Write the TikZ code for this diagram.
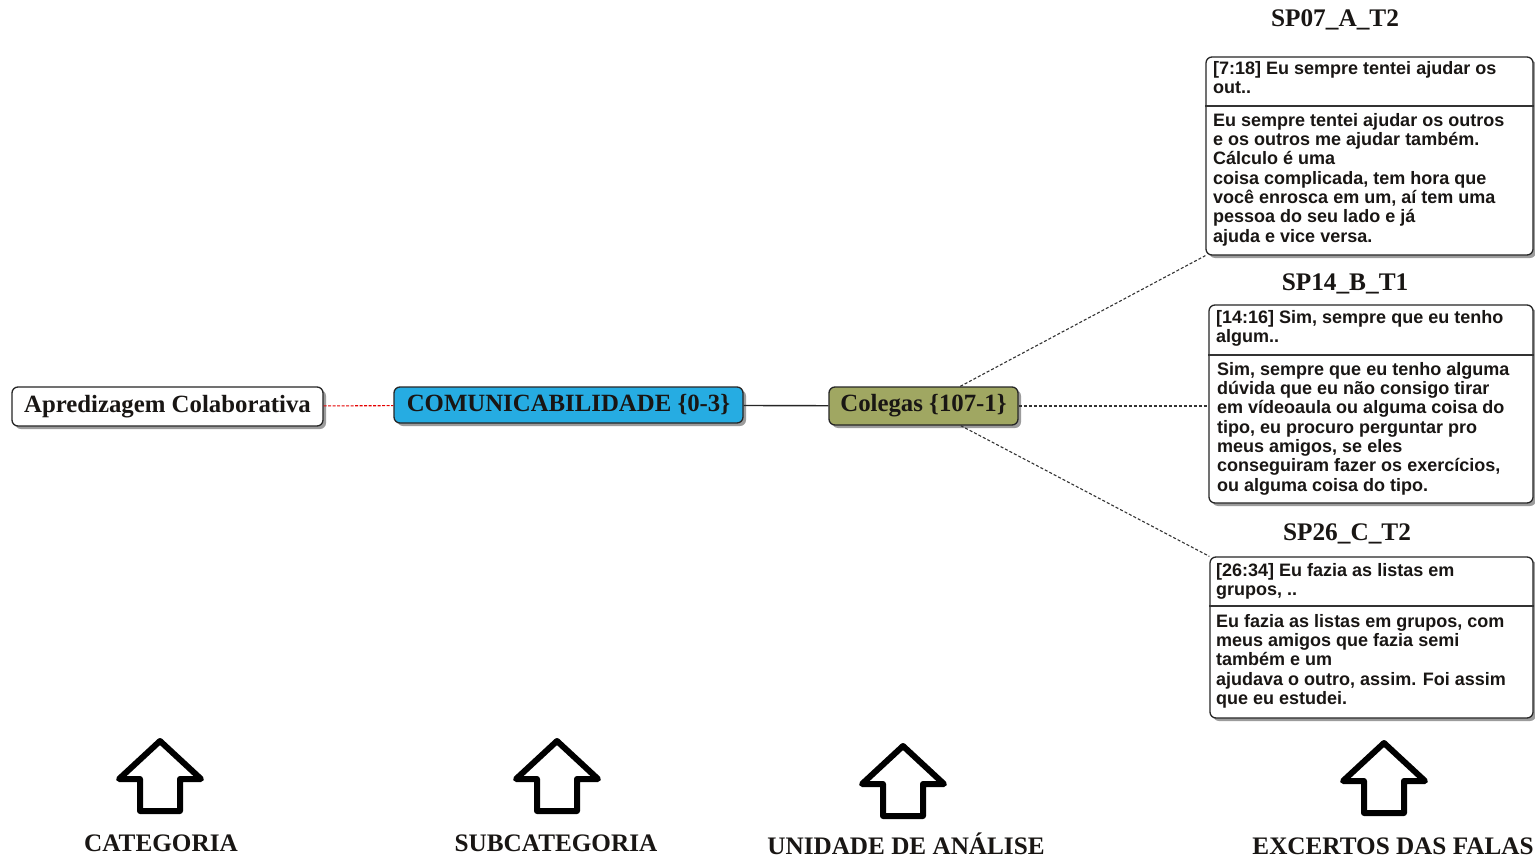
\documentclass[tikz,border=0pt]{standalone}
\usepackage{fontspec}
\setmainfont{Liberation Serif}
\setsansfont{Liberation Sans}
\usetikzlibrary{shadows}
\definecolor{comblue}{RGB}{38,172,226}
\definecolor{coleolive}{RGB}{160,167,98}
\definecolor{inkdark}{RGB}{25,22,20}
\tikzset{
  mapnode/.style={draw=black!85, line width=1.3pt, rounded corners=6pt,
    inner sep=0pt, text=inkdark,
    font=\fontsize{24.8}{28}\selectfont\bfseries\rmfamily,
    drop shadow={shadow xshift=3pt, shadow yshift=-3pt, fill=black!55, opacity=0.7}},
  excbox/.style={draw=black!85, line width=1.3pt, rounded corners=6pt,
    fill=white, inner sep=0pt,
    drop shadow={shadow xshift=3pt, shadow yshift=-3pt, fill=black!55, opacity=0.7}},
  exctext/.style={anchor=north west, align=left, inner sep=0pt, text=inkdark,
    font=\fontsize{18}{19.3}\selectfont\bfseries\sffamily},
  sepline/.style={draw=black!80, line width=1.3pt},
  boxtitle/.style={anchor=base, inner sep=0pt, text=inkdark,
    font=\fontsize{25.3}{28}\selectfont\bfseries\rmfamily},
  levellabel/.style={anchor=base, inner sep=0pt, text=inkdark,
    font=\fontsize{25.2}{28}\selectfont\bfseries\rmfamily},
  linkdash/.style={draw=black!80, line width=1.1pt, dash pattern=on 3pt off 2pt},
  upmark/.pic={\draw[line width=6pt, line join=round]
    (0,0) -- (41,38) -- (20,38) -- (20,70) -- (-20,70) -- (-20,38) -- (-41,38) -- cycle;}
}
\begin{document}
\begin{tikzpicture}[x=1pt, y=-1pt]
\useasboundingbox[fill=white] (0,0) rectangle (1535,859);

% main chain of the map
\node[mapnode, fill=white, minimum width=311pt, minimum height=39pt] (cat) at (167.5,406.5) {Apredizagem Colaborativa};
\node[mapnode, fill=comblue, minimum width=349pt, minimum height=36pt] (sub) at (568.5,405) {COMUNICABILIDADE \{0-3\}};
\node[mapnode, fill=coleolive, minimum width=189pt, minimum height=38pt] (uni) at (923.5,406) {Colegas \{107-1\}};

\draw[red!90!black, line width=1.1pt, dash pattern=on 3pt off 1.5pt] (cat) -- (sub);
\draw[black!85, line width=1.4pt] (sub) -- (uni);

% excerpt boxes
\node[excbox, minimum width=327pt, minimum height=198pt] (e1) at (1369.5,156) {};
\node[excbox, minimum width=324pt, minimum height=198pt] (e2) at (1371,404) {};
\node[excbox, minimum width=323pt, minimum height=161pt] (e3) at (1371.5,637.5) {};

\coordinate (s1) at (0,106);
\coordinate (s2) at (0,355);
\coordinate (s3) at (0,606);
\draw[sepline] (e1.west |- s1) -- (e1.east |- s1);
\draw[sepline] (e2.west |- s2) -- (e2.east |- s2);
\draw[sepline] (e3.west |- s3) -- (e3.east |- s3);

\node[exctext] (e1h) at (1213,61) {[7:18] Eu sempre tentei ajudar os\\out..};
\node[exctext] (e1b) at (1213,113) {Eu sempre tentei ajudar os outros\\e os outros me ajudar também.\\Cálculo é uma\\coisa complicada, tem hora que\\você enrosca em um, aí tem uma\\pessoa do seu lado e já\\ajuda e vice versa.};

\node[exctext] (e2h) at (1216,310) {[14:16] Sim, sempre que eu tenho\\algum..};
\node[exctext] (e2b) at (1217,362) {Sim, sempre que eu tenho alguma\\dúvida que eu não consigo tirar\\em vídeoaula ou alguma coisa do\\tipo, eu procuro perguntar pro\\meus amigos, se eles\\conseguiram fazer os exercícios,\\ou alguma coisa do tipo.};

\node[exctext] (e3h) at (1216,563) {[26:34] Eu fazia as listas em\\grupos, ..};
\node[exctext] (e3b) at (1216,614) {Eu fazia as listas em grupos, com\\meus amigos que fazia semi\\também e um\\ajudava o outro, assim. Foi assim\\que eu estudei.};

\node[boxtitle] (t1) at (1335,27) {SP07\_A\_T2};
\node[boxtitle] (t2) at (1345,290) {SP14\_B\_T1};
\node[boxtitle] (t3) at (1347,540) {SP26\_C\_T2};

% links from the unit of analysis to the excerpts
\draw[linkdash] (uni) -- (e1.south west);
\draw[linkdash] (uni.east) -- (e2.west |- uni.east);
\draw[linkdash] (uni) -- (e3.north west);

% level markers
\pic at (160,741) {upmark};
\pic at (557,741) {upmark};
\pic at (903,746) {upmark};
\pic at (1384,743) {upmark};

\node[levellabel] (l1) at (161,851) {CATEGORIA};
\node[levellabel] (l2) at (556,851) {SUBCATEGORIA};
\node[levellabel] (l3) at (906,854) {UNIDADE DE ANÁLISE};
\node[levellabel] (l4) at (1393,854) {EXCERTOS DAS FALAS};
\end{tikzpicture}
\end{document}
